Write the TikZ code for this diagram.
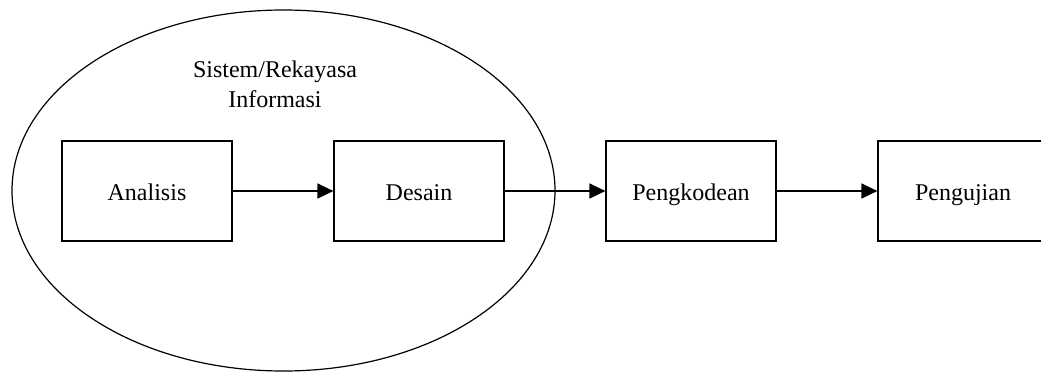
\documentclass[tikz,border=0pt]{standalone}
\usepackage{fontspec}
\setmainfont{Liberation Serif}
\usetikzlibrary{arrows.meta,shapes.geometric}
\tikzset{
  stagebox/.style={draw=black, line width=1.2pt, minimum width=170pt, minimum height=100pt, inner sep=0pt, text height=19pt, text depth=0pt, font=\fontsize{24pt}{30pt}\selectfont},
  flow/.style={line width=1.6pt, -{Triangle[length=16pt,width=15pt]}},
  sysellipse/.style={ellipse, draw=black, line width=1.2pt, minimum width=543pt, minimum height=361pt, inner sep=0pt}
}
\begin{document}
\begin{tikzpicture}[x=1pt,y=-1pt]
\useasboundingbox (0,0) rectangle (1041,372);
\clip (0,0) rectangle (1041,372);
\node[sysellipse] (sys) at (283.5,190.5) {};
\node[font=\fontsize{24pt}{30pt}\selectfont, align=center, inner sep=0pt] (title) at (275,84) {Sistem/Rekayasa\\Informasi};
\node[stagebox] (analisis) at (147,191) {Analisis};
\node[stagebox] (desain) at (419,191) {Desain};
\node[stagebox] (kode) at (691,191) {Pengkodean};
\node[stagebox] (uji) at (963,191) {Pengujian};
\draw[flow] (analisis.east) -- (desain.west);
\draw[flow] (desain.east) -- (kode.west);
\draw[flow] (kode.east) -- (uji.west);
\end{tikzpicture}
\end{document}
